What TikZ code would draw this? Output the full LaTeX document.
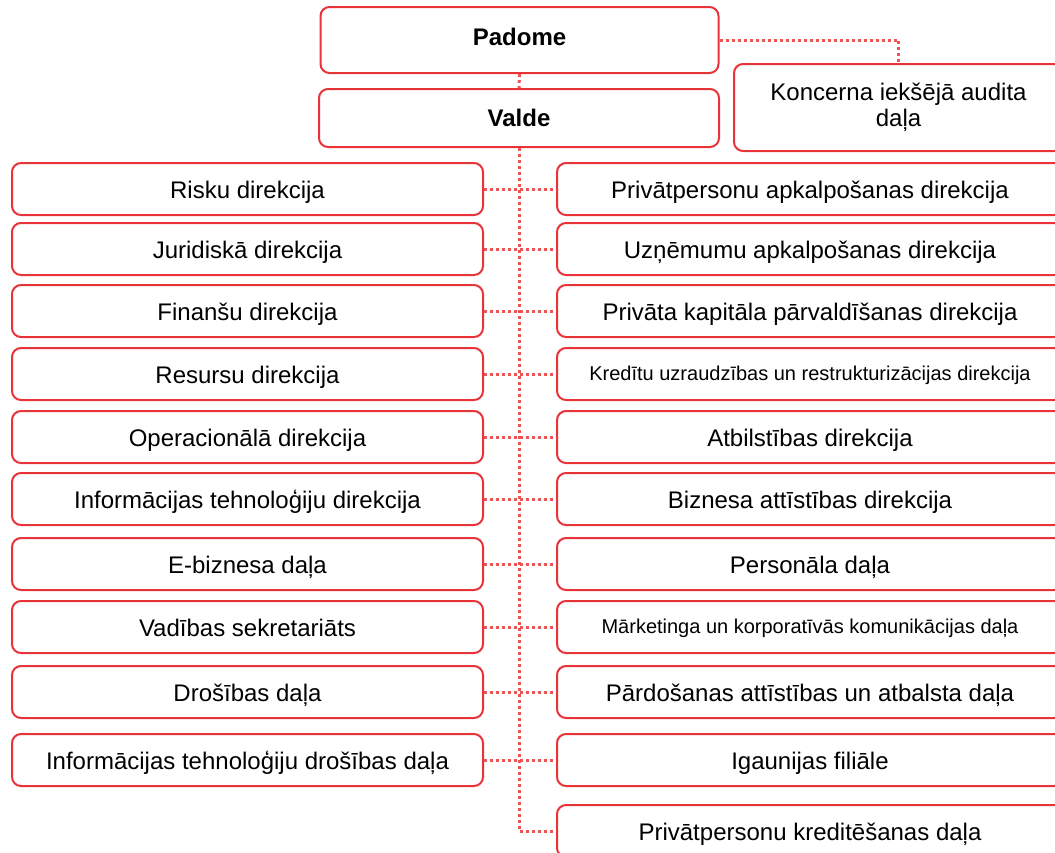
\documentclass[tikz,border=0pt]{standalone}
\usepackage{fontspec}
\setmainfont{Liberation Sans}
\usetikzlibrary{positioning}
\definecolor{boxred}{RGB}{232,52,56}
\definecolor{linkred}{RGB}{238,84,84}

\begin{document}
\begin{tikzpicture}[x=1pt,y=-1pt,
  box/.style={draw=boxred,line width=2pt,rounded corners=9pt,fill=white,inner sep=0pt,align=center,font=\fontsize{24}{26}\selectfont},
  lbox/.style={box,minimum width=471pt,minimum height=52pt,text height=20pt,text depth=1pt},
  rbox/.style={box,minimum width=506pt,minimum height=52pt,text height=20pt,text depth=1pt},
  small/.style={font=\fontsize{20}{22}\selectfont,text height=16pt,text depth=4pt},
  link/.style={draw=linkred,line width=3pt,dash pattern=on 3pt off 3pt}]
\useasboundingbox (0,0) rectangle (1055,852);
\clip (0,0) rectangle (1055,852);

% top of the tree
\node(P) [box,minimum width=398pt,minimum height=66pt,text height=17pt,text depth=7pt,font=\bfseries\fontsize{24}{26}\selectfont] at (519.5,40) {Padome};
\node(V) [box,minimum width=400pt,minimum height=58pt,font=\bfseries\fontsize{24}{26}\selectfont] at (519,118) {Valde};
\node(A) [box,minimum width=329pt,minimum height=87pt] at (898.5,107.5) {Koncerna iekšējā audita\\daļa};

% left column
\node(L1) [lbox] at (247.5,189) {Risku direkcija};
\node(L2) [lbox] at (247.5,249) {Juridiskā direkcija};
\node(L3) [lbox] at (247.5,311) {Finanšu direkcija};
\node(L4) [lbox] at (247.5,374) {Resursu direkcija};
\node(L5) [lbox] at (247.5,437) {Operacionālā direkcija};
\node(L6) [lbox] at (247.5,499) {Informācijas tehnoloģiju direkcija};
\node(L7) [lbox] at (247.5,564) {E-biznesa daļa};
\node(L8) [lbox] at (247.5,627) {Vadības sekretariāts};
\node(L9) [lbox] at (247.5,692) {Drošības daļa};
\node(L10) [lbox] at (247.5,760) {Informācijas tehnoloģiju drošības daļa};

% right column
\node(R1) [rbox] at (810,189) {Privātpersonu apkalpošanas direkcija};
\node(R2) [rbox] at (810,249) {Uzņēmumu apkalpošanas direkcija};
\node(R3) [rbox] at (810,311) {Privāta kapitāla pārvaldīšanas direkcija};
\node(R4) [rbox,small] at (810,374) {Kredītu uzraudzības un restrukturizācijas direkcija};
\node(R5) [rbox] at (810,437) {Atbilstības direkcija};
\node(R6) [rbox] at (810,499) {Biznesa attīstības direkcija};
\node(R7) [rbox] at (810,564) {Personāla daļa};
\node(R8) [rbox,small] at (810,627) {Mārketinga un korporatīvās komunikācijas daļa};
\node(R9) [rbox] at (810,692) {Pārdošanas attīstības un atbalsta daļa};
\node(R10) [rbox] at (810,760) {Igaunijas filiāle};
\node(R11) [rbox] at (810,831) {Privātpersonu kreditēšanas daļa};

% dotted links
\draw[link] (P.south) -- (V.north);
\draw[link] (P.east) -| (A.north);
\draw[link] (V.south) |- (R11.west);
\draw[link] (L1.east) -- (R1.west);
\draw[link] (L2.east) -- (R2.west);
\draw[link] (L3.east) -- (R3.west);
\draw[link] (L4.east) -- (R4.west);
\draw[link] (L5.east) -- (R5.west);
\draw[link] (L6.east) -- (R6.west);
\draw[link] (L7.east) -- (R7.west);
\draw[link] (L8.east) -- (R8.west);
\draw[link] (L9.east) -- (R9.west);
\draw[link] (L10.east) -- (R10.west);
\end{tikzpicture}
\end{document}
